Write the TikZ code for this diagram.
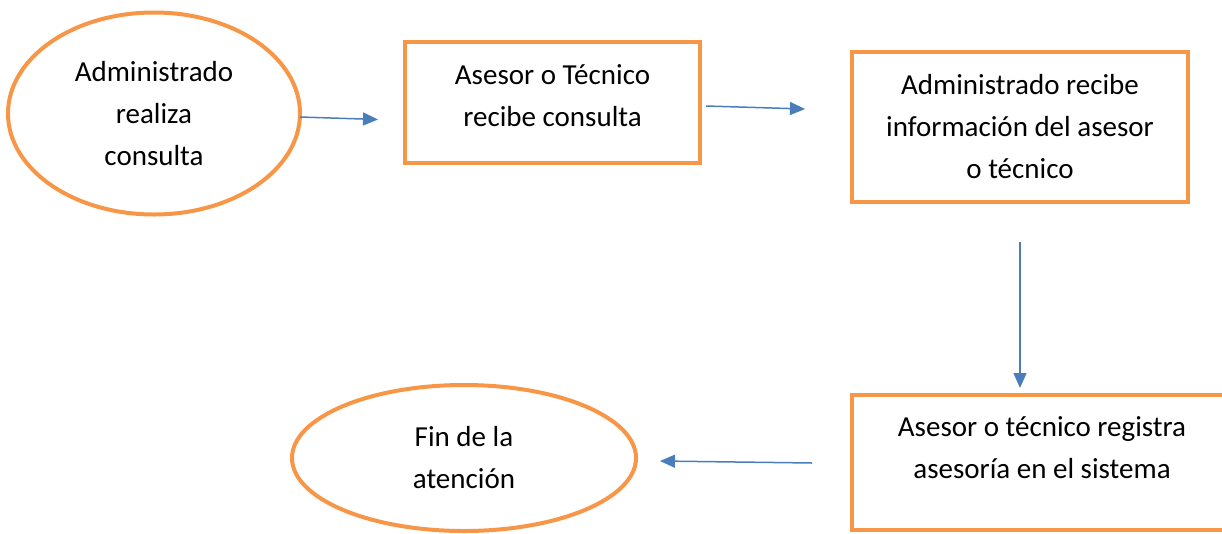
\documentclass[tikz,border=0pt]{standalone}
\usepackage{fontspec}
\setmainfont{Carlito}
\usetikzlibrary{shapes.geometric,arrows.meta}
\definecolor{ora}{HTML}{F79646}
\definecolor{blu}{HTML}{4A7EBB}
\tikzset{
  oval/.style={draw=ora, line width=4pt, ellipse, inner sep=0pt, align=center, font=\fontsize{29}{42}\selectfont},
  stepbox/.style={draw=ora, line width=4pt, rectangle, inner sep=0pt, align=center, font=\fontsize{29}{42}\selectfont},
  txt/.style={inner sep=0pt, align=center, font=\fontsize{29}{42}\selectfont},
  arr/.style={draw=blu, line width=1.5pt, -{Triangle[length=15pt,width=13pt]}}
}
\begin{document}
\begin{tikzpicture}[x=1pt,y=-1pt]
\useasboundingbox (0,0) rectangle (1222,533);
\clip (0,0) rectangle (1222,533);
\node[oval, minimum width=292pt, minimum height=202pt] (e1) at (154,113.5) {Administrado\\realiza\\consulta};
\node[stepbox, minimum width=295pt, minimum height=121pt] (b1) at (552.5,102.5) {};
\node[txt] (t1) at (552.5,96) {Asesor o Técnico\\recibe consulta};
\node[stepbox, minimum width=336pt, minimum height=150pt] (b2) at (1020,127) {Administrado recibe\\información del asesor\\o técnico};
\node[stepbox, minimum width=380pt, minimum height=135pt] (b3) at (1042,462.5) {};
\node[txt] (t3) at (1042,448) {Asesor o técnico registra\\asesoría en el sistema};
\node[oval, minimum width=344pt, minimum height=146pt] (e2) at (464,458) {Fin de la\\atención};
\coordinate (a1s) at (300,117);
\coordinate (a1e) at (378,119.5);
\coordinate (a2s) at (706,106);
\coordinate (a2e) at (805,109);
\coordinate (a3s) at (1020,242);
\coordinate (a3e) at (1020,388);
\coordinate (a4s) at (812,463);
\coordinate (a4e) at (660,461);
\draw[arr] (a1s) -- (a1e);
\draw[arr] (a2s) -- (a2e);
\draw[arr] (a3s) -- (a3e);
\draw[arr] (a4s) -- (a4e);
\end{tikzpicture}
\end{document}
